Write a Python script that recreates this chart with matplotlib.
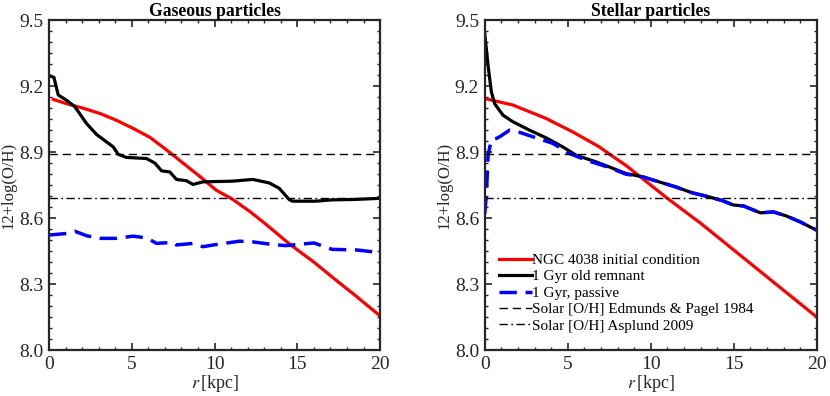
import matplotlib
matplotlib.use("Agg")
import matplotlib.pyplot as plt
from matplotlib.ticker import MultipleLocator

plt.rcParams['font.family'] = ['Liberation Serif', 'DejaVu Serif']
plt.rcParams['mathtext.fontset'] = 'stix'

# ---- gaseous particles ----
gas_red_x = [0.26, 1.06, 2.06, 3.07, 4.07, 5.08, 6.1, 7.1, 8.1, 9.1, 10.1, 11.1, 12.15, 13.1, 14.56, 16.0, 17.2, 18.5, 20.0]
gas_red_y = [9.14, 9.12, 9.10, 9.076, 9.045, 9.008, 8.967, 8.91, 8.85, 8.79, 8.727, 8.685, 8.629, 8.572, 8.48, 8.40, 8.326, 8.248, 8.155]

gas_blk_x = [0.1, 0.3, 0.56, 1.06, 1.57, 2.27, 2.88, 3.88, 4.18, 4.68, 5.89, 6.4, 6.8, 7.3, 7.7, 8.3, 8.7, 9.3, 11.1, 12.3, 13.3, 13.9, 14.5, 14.7, 16.1, 17.1, 18.5, 20.0]
gas_blk_y = [9.245, 9.24, 9.16, 9.136, 9.106, 9.03, 8.98, 8.924, 8.89, 8.876, 8.871, 8.85, 8.815, 8.81, 8.776, 8.77, 8.753, 8.765, 8.768, 8.776, 8.76, 8.736, 8.685, 8.677, 8.677, 8.683, 8.685, 8.69]

gas_blu_x = [0.0, 1.06, 1.57, 2.27, 3.07, 4.07, 5.08, 5.9, 6.5, 7.5, 7.7, 8.7, 9.3, 10.1, 11.5, 12.3, 13.5, 14.3, 16.0, 17.1, 18.6, 20.0]
gas_blu_y = [8.523, 8.53, 8.54, 8.52, 8.508, 8.508, 8.518, 8.51, 8.485, 8.49, 8.478, 8.485, 8.47, 8.48, 8.495, 8.492, 8.48, 8.475, 8.487, 8.458, 8.455, 8.443]

# ---- stellar particles ----
st_red_x = [0.1, 1.7, 3.7, 5.3, 6.9, 7.53, 8.5, 9.5, 11.0, 13.0, 15.0, 17.0, 20.0]
st_red_y = [9.142, 9.114, 9.053, 8.992, 8.924, 8.89, 8.84, 8.78, 8.69, 8.577, 8.455, 8.333, 8.15]

st_blk_x = [0.0, 0.2, 0.4, 0.6, 1.1, 1.7, 2.7, 3.7, 4.7, 5.5, 6.7, 7.5, 8.5, 9.5, 10.5, 11.5, 12.5, 13.5, 14.3, 14.96, 15.6, 16.6, 17.4, 18.2, 19.0, 20.0]
st_blk_y = [9.44, 9.295, 9.174, 9.12, 9.068, 9.038, 9.0, 8.965, 8.924, 8.886, 8.856, 8.833, 8.803, 8.788, 8.765, 8.742, 8.715, 8.697, 8.68, 8.66, 8.655, 8.624, 8.628, 8.609, 8.583, 8.545]

st_blu_x = [0.0, 0.1, 0.2, 0.4, 0.7, 0.9, 1.5, 2.1, 3.1, 4.1, 5.1, 6.1, 7.5, 8.5, 9.5, 10.5, 11.5, 12.5, 13.5, 14.3, 14.96, 15.6, 16.6, 17.4, 18.2, 19.0, 20.0]
st_blu_y = [8.62, 8.705, 8.886, 8.955, 8.962, 8.97, 9.0, 8.99, 8.965, 8.94, 8.894, 8.864, 8.83, 8.80, 8.788, 8.765, 8.742, 8.715, 8.697, 8.68, 8.66, 8.655, 8.624, 8.628, 8.609, 8.583, 8.545]

solar_ep = 8.89
solar_asp = 8.69

labels = ["NGC 4038 initial condition", "1 Gyr old remnant", "1 Gyr, passive",
          "Solar [O/H] Edmunds & Pagel 1984", "Solar [O/H] Asplund 2009"]

fig = plt.figure(figsize=(8.3, 3.96), dpi=100)
ax1 = fig.add_axes([0.059, 0.116, 0.399, 0.833])
ax2 = fig.add_axes([0.584, 0.116, 0.400, 0.833])

panels = [(ax1, "Gaseous particles", gas_red_x, gas_red_y, gas_blk_x, gas_blk_y, gas_blu_x, gas_blu_y),
          (ax2, "Stellar particles", st_red_x, st_red_y, st_blk_x, st_blk_y, st_blu_x, st_blu_y)]

for ax, title, rx, ry, kx, ky, bx, by in panels:
    ax.plot(rx, ry, color='red', lw=2.3, label=labels[0])
    ax.plot(kx, ky, color='black', lw=2.3, label=labels[1])
    ax.plot(bx, by, color='blue', lw=2.5, ls=(0, (5, 2.5)), label=labels[2])
    ax.axhline(solar_ep, color='black', lw=1.0, ls=(0, (6, 3.5)), label=labels[3])
    ax.axhline(solar_asp, color='black', lw=1.0, ls=(0, (6, 2.5, 1.2, 2.5)), label=labels[4])
    ax.set_xlim(0, 20)
    ax.set_ylim(8.0, 9.5)
    ax.set_xticks([0, 5, 10, 15, 20])
    ax.set_yticks([8.0, 8.3, 8.6, 8.9, 9.2, 9.5])
    ax.set_yticklabels(["8.0", "8.3", "8.6", "8.9", "9.2", "9.5"])
    ax.xaxis.set_minor_locator(MultipleLocator(1))
    ax.yaxis.set_minor_locator(MultipleLocator(0.05))
    ax.tick_params(which='both', direction='in', top=True, right=True, labelsize=14, colors='#262626', labelcolor='#262626')
    ax.tick_params(which='major', length=5, width=1.2, pad=4)
    ax.tick_params(which='minor', length=2.5, width=1.0)
    for s in ax.spines.values():
        s.set_linewidth(1.6)
        s.set_color('#262626')
    ax.set_title(title, fontsize=12.7, fontweight='bold', pad=3)
    ax.set_xlabel(r'$r\,$[kpc]', fontsize=13, labelpad=0, color='#262626')
    ax.set_ylabel('12+log(O/H)', fontsize=12, labelpad=2, color='#262626')

ax2.legend(loc='lower left', frameon=False, fontsize=11, handlelength=2.2,
           handletextpad=0.0, labelspacing=0.18, borderaxespad=0.3,
           bbox_to_anchor=(0.01, 0.02))

fig.savefig("out.png", dpi=100)
